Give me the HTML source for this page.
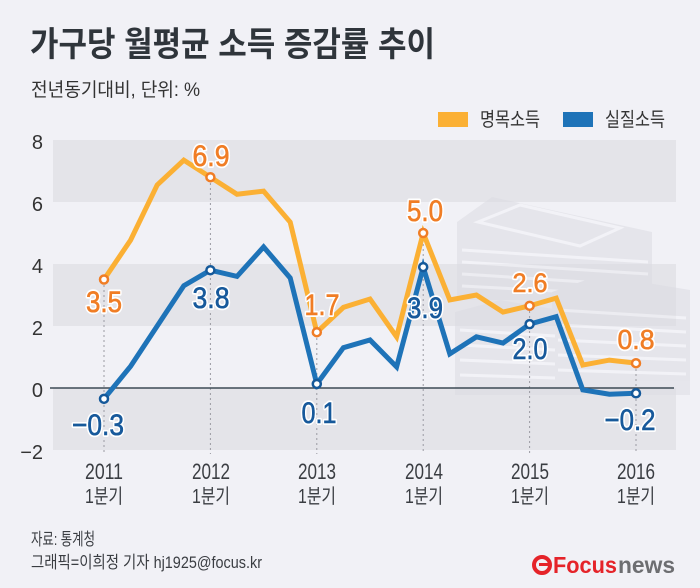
<!DOCTYPE html>
<html><head><meta charset="utf-8"><style>
html,body{margin:0;padding:0;background:#f1f1f6;}
svg{display:block;}
text{font-family:"Liberation Sans","Noto Sans CJK KR",sans-serif;}
</style></head><body>
<svg width="700" height="588" viewBox="0 0 700 588" xmlns="http://www.w3.org/2000/svg">
<rect x="0" y="0" width="700" height="588" fill="#f1f1f6"/>
<!-- title -->
<text x="30" y="56" font-size="34" font-weight="bold" fill="#2f353b" textLength="405" lengthAdjust="spacingAndGlyphs">가구당 월평균 소득 증감률 추이</text>
<text x="31" y="96" font-size="19" fill="#333" textLength="169" lengthAdjust="spacingAndGlyphs">전년동기대비, 단위: %</text>
<!-- legend -->
<rect x="438" y="112" width="30" height="15" fill="#fbb034"/>
<text x="480" y="126" font-size="19.5" fill="#333" textLength="60" lengthAdjust="spacingAndGlyphs">명목소득</text>
<rect x="563" y="112" width="30" height="15" fill="#1e73b8"/>
<text x="605" y="126" font-size="19.5" fill="#333" textLength="60" lengthAdjust="spacingAndGlyphs">실질소득</text>
<!-- bands -->
<rect x="53" y="140" width="623" height="62" fill="#e4e4e9"/>
<rect x="53" y="264" width="623" height="62" fill="#e4e4e9"/>
<rect x="53" y="388" width="623" height="62" fill="#e4e4e9"/>
<!-- faint money illustration -->
<g opacity="0.55">
  <polygon points="457,222 492,197 652,232 652,300 457,300" fill="#dcdce3"/>
  <g stroke="#f4f4f8" stroke-width="3">
    <line x1="462" y1="250" x2="648" y2="262"/>
    <line x1="462" y1="262" x2="648" y2="274"/>
    <line x1="462" y1="274" x2="648" y2="286"/>
    <line x1="462" y1="286" x2="648" y2="296"/>
  </g>
  <polygon points="478,222 520,205 620,228 580,246" fill="none" stroke="#f4f4f8" stroke-width="3"/>
  <polygon points="552,292 600,275 690,290 690,395 552,395" fill="#dcdce3"/>
  <polygon points="455,312 500,300 560,310 560,395 455,395" fill="#dcdce3"/>
  <g stroke="#f4f4f8" stroke-width="3">
    <line x1="460" y1="330" x2="555" y2="336"/>
    <line x1="460" y1="345" x2="555" y2="350"/>
    <line x1="460" y1="360" x2="555" y2="364"/>
    <line x1="460" y1="375" x2="555" y2="378"/>
    <line x1="558" y1="310" x2="686" y2="318"/>
    <line x1="558" y1="325" x2="686" y2="332"/>
    <line x1="558" y1="340" x2="686" y2="346"/>
    <line x1="558" y1="355" x2="686" y2="360"/>
    <line x1="558" y1="370" x2="686" y2="374"/>
  </g>
</g>
<!-- y labels -->
<g font-size="20" fill="#333" text-anchor="end">
  <text x="43" y="149">8</text>
  <text x="43" y="211">6</text>
  <text x="43" y="273">4</text>
  <text x="43" y="335">2</text>
  <text x="43" y="397">0</text>
  <text x="43" y="459">−2</text>
</g>
<!-- dotted verticals -->
<g stroke="#9a9aa2" stroke-width="1" stroke-dasharray="2,3">
  <line x1="104" y1="280" x2="104" y2="454"/>
  <line x1="210.4" y1="178" x2="210.4" y2="454"/>
  <line x1="316.8" y1="333" x2="316.8" y2="454"/>
  <line x1="423.2" y1="234" x2="423.2" y2="454"/>
  <line x1="529.6" y1="306" x2="529.6" y2="454"/>
  <line x1="636" y1="364" x2="636" y2="454"/>
</g>
<!-- zero line -->
<line x1="50" y1="388" x2="674" y2="388" stroke="#3d4a55" stroke-width="1.5"/>
<!-- series -->
<polyline fill="none" stroke="#fbb034" stroke-width="5" stroke-linejoin="miter" stroke-miterlimit="4"
 points="104,279.5 130.6,240.1 157.2,184.95 183.8,160.15 210.4,177.2 237,194.25 263.6,191.15 290.2,222.15 316.8,332.2 343.4,307.4 370,299.03 396.6,336.85 423.2,233 449.8,299.96 476.4,295 503,312.05 529.6,305.85 556.2,298.1 582.8,365.06 609.4,360.1 636,363.2"/>
<polyline fill="none" stroke="#1e73b8" stroke-width="5" stroke-linejoin="miter" stroke-miterlimit="4"
 points="104,398.85 130.6,366.3 157.2,326 183.8,285.7 210.4,270.2 237,276.4 263.6,246.95 290.2,277.95 316.8,383.97 343.4,347.7 370,339.95 396.6,366.92 423.2,267.1 449.8,353.9 476.4,336.85 503,343.05 529.6,324.14 556.2,316.7 582.8,389.86 609.4,394.2 636,393.27"/>
<!-- markers -->
<g fill="#fff" stroke="#f07d25" stroke-width="2.5">
  <circle cx="104" cy="279.5" r="4"/>
  <circle cx="210.4" cy="177.2" r="4"/>
  <circle cx="316.8" cy="332.2" r="4"/>
  <circle cx="423.2" cy="233" r="4"/>
  <circle cx="529.6" cy="305.85" r="4"/>
  <circle cx="636" cy="363.2" r="4"/>
</g>
<g fill="#fff" stroke="#15599a" stroke-width="2.5">
  <circle cx="104" cy="398.85" r="4"/>
  <circle cx="210.4" cy="270.2" r="4"/>
  <circle cx="316.8" cy="383.97" r="4"/>
  <circle cx="423.2" cy="267.1" r="4"/>
  <circle cx="529.6" cy="324.14" r="4"/>
  <circle cx="636" cy="393.27" r="4"/>
</g>
<!-- value labels: halo -->
<g font-size="30" text-anchor="middle" fill="#fff" stroke="#fff" stroke-width="4" stroke-linejoin="round" lengthAdjust="spacingAndGlyphs">
  <text x="104" y="312" textLength="36" lengthAdjust="spacingAndGlyphs">3.5</text>
  <text x="211" y="166" textLength="37" lengthAdjust="spacingAndGlyphs">6.9</text>
  <text x="211" y="308" textLength="37" lengthAdjust="spacingAndGlyphs">3.8</text>
  <text x="98" y="435" textLength="52" lengthAdjust="spacingAndGlyphs">−0.3</text>
  <text x="322" y="315" textLength="35" lengthAdjust="spacingAndGlyphs">1.7</text>
  <text x="319" y="423" textLength="35" lengthAdjust="spacingAndGlyphs">0.1</text>
  <text x="425" y="221" textLength="36" lengthAdjust="spacingAndGlyphs">5.0</text>
  <text x="425" y="318" textLength="36" lengthAdjust="spacingAndGlyphs">3.9</text>
  <text x="530" y="292" font-size="27" textLength="35" lengthAdjust="spacingAndGlyphs">2.6</text>
  <text x="530" y="359" textLength="35" lengthAdjust="spacingAndGlyphs">2.0</text>
  <text x="636" y="349" font-size="28" textLength="37" lengthAdjust="spacingAndGlyphs">0.8</text>
  <text x="630" y="430" textLength="51" lengthAdjust="spacingAndGlyphs">−0.2</text>
</g>
<g font-size="30" text-anchor="middle" fill="#f07d25" stroke="#f07d25" stroke-width="0.6">
  <text x="104" y="312" textLength="36" lengthAdjust="spacingAndGlyphs">3.5</text>
  <text x="211" y="166" textLength="37" lengthAdjust="spacingAndGlyphs">6.9</text>
  <text x="322" y="315" textLength="35" lengthAdjust="spacingAndGlyphs">1.7</text>
  <text x="425" y="221" textLength="36" lengthAdjust="spacingAndGlyphs">5.0</text>
  <text x="530" y="292" font-size="27" textLength="35" lengthAdjust="spacingAndGlyphs">2.6</text>
  <text x="636" y="349" font-size="28" textLength="37" lengthAdjust="spacingAndGlyphs">0.8</text>
</g>
<g font-size="30" text-anchor="middle" fill="#17599b" stroke="#17599b" stroke-width="0.6">
  <text x="211" y="308" textLength="37" lengthAdjust="spacingAndGlyphs">3.8</text>
  <text x="98" y="435" textLength="52" lengthAdjust="spacingAndGlyphs">−0.3</text>
  <text x="319" y="423" textLength="35" lengthAdjust="spacingAndGlyphs">0.1</text>
  <text x="425" y="318" textLength="36" lengthAdjust="spacingAndGlyphs">3.9</text>
  <text x="530" y="359" textLength="35" lengthAdjust="spacingAndGlyphs">2.0</text>
  <text x="630" y="430" textLength="51" lengthAdjust="spacingAndGlyphs">−0.2</text>
</g>
<!-- x labels -->
<g font-size="22" fill="#3a3d42" text-anchor="middle">
  <text x="104" y="479" textLength="38" lengthAdjust="spacingAndGlyphs">2011</text>
  <text x="211" y="479" textLength="38" lengthAdjust="spacingAndGlyphs">2012</text>
  <text x="317" y="479" textLength="38" lengthAdjust="spacingAndGlyphs">2013</text>
  <text x="424" y="479" textLength="38" lengthAdjust="spacingAndGlyphs">2014</text>
  <text x="530" y="479" textLength="38" lengthAdjust="spacingAndGlyphs">2015</text>
  <text x="636" y="479" textLength="38" lengthAdjust="spacingAndGlyphs">2016</text>
</g>
<g font-size="20" fill="#3a3d42" text-anchor="middle">
  <text x="104" y="503" textLength="38" lengthAdjust="spacingAndGlyphs">1분기</text>
  <text x="211" y="503" textLength="38" lengthAdjust="spacingAndGlyphs">1분기</text>
  <text x="317" y="503" textLength="38" lengthAdjust="spacingAndGlyphs">1분기</text>
  <text x="424" y="503" textLength="38" lengthAdjust="spacingAndGlyphs">1분기</text>
  <text x="530" y="503" textLength="38" lengthAdjust="spacingAndGlyphs">1분기</text>
  <text x="636" y="503" textLength="38" lengthAdjust="spacingAndGlyphs">1분기</text>
</g>
<!-- footer -->
<text x="31" y="545" font-size="17" fill="#3a3d42" textLength="64" lengthAdjust="spacingAndGlyphs">자료: 통계청</text>
<text x="31" y="568" font-size="17" fill="#3a3d42" textLength="231" lengthAdjust="spacingAndGlyphs">그래픽=이희정 기자 hj1925@focus.kr</text>
<!-- logo -->
<circle cx="542" cy="565" r="8" fill="none" stroke="#e52329" stroke-width="4"/>
<rect x="539" y="563" width="9" height="3" fill="#e52329"/>
<text x="553" y="573" font-size="23" font-weight="bold" fill="#e52329" textLength="64" lengthAdjust="spacingAndGlyphs">Focus</text>
<text x="618" y="573" font-size="23" font-weight="bold" fill="#6d6e71" textLength="57" lengthAdjust="spacingAndGlyphs">news</text>
</svg>
</body></html>
